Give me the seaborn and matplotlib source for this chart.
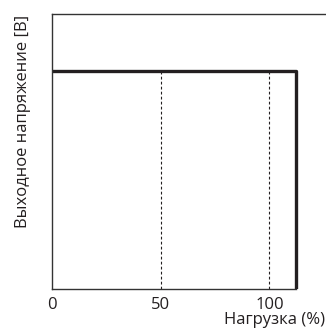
import numpy as np
import pandas as pd
import matplotlib
matplotlib.use("Agg")
import matplotlib.pyplot as plt
import seaborn as sns

# Data: output voltage vs load (relative units)
load_pct = [0, 112, 112]
voltage = [1.0, 1.0, 0.0]
guide_x = [50, 100]
x_ticks = [0, 50, 100]

sns.set_theme(style="white")
plt.rcParams["font.family"] = ["Open Sans", "DejaVu Sans"]

ink = "#231f20"

fig = plt.figure(figsize=(3.26, 3.29), dpi=100)
ax = fig.add_axes([0.16, 0.122, 0.84, 0.836])

df = pd.DataFrame({"load": load_pct, "volt": voltage})
sns.lineplot(data=df, x="load", y="volt", sort=False, estimator=None,
             color=ink, linewidth=2.4, ax=ax)

# dotted guides at 50% and 100%
ax.vlines(guide_x, 0, voltage[0], colors=ink, linestyles=(0, (2.5, 2)), linewidth=0.8)

ax.set_xlim(0, 126)
ax.set_ylim(0, 1.26)
ax.set_xticks(x_ticks)
ax.set_xticklabels([str(t) for t in x_ticks])
ax.set_yticks([])
ax.tick_params(axis="x", length=0, pad=6, labelsize=12, colors=ink)

for side in ["left", "bottom", "top"]:
    ax.spines[side].set_color("#333333")
    ax.spines[side].set_linewidth(1.0)
ax.spines["right"].set_visible(False)
ax.spines["bottom"].set_bounds(0, load_pct[1])

ax.set_xlabel("Нагрузка (%)", fontsize=12, color=ink, ha="right", va="baseline")
ax.set_ylabel("Выходное напряжение [В]", fontsize=12, color=ink)
ax.yaxis.set_label_coords(-0.077, 0.607)
ax.xaxis.set_label_coords(0.998, -0.128)

fig.savefig("out.png", dpi=100)
